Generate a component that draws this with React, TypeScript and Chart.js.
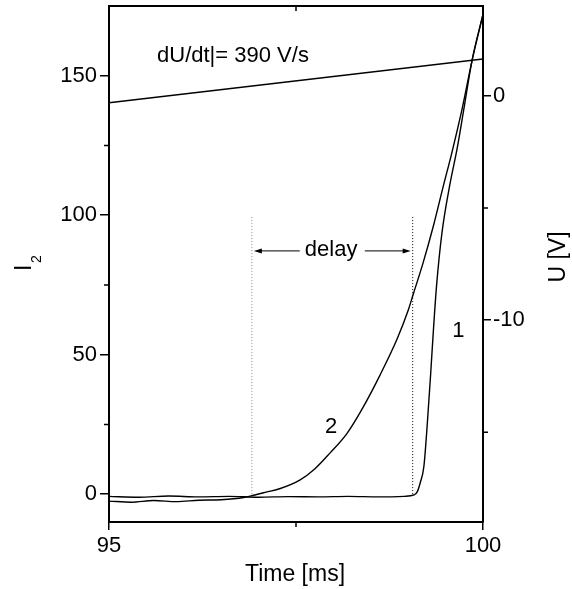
import React, { useEffect, useRef } from "react";
import { Chart, registerables } from "chart.js";

Chart.register(...registerables);

const FONT = '"Liberation Sans", Arial, Helvetica, sans-serif';

// Axis ranges and ticks
const timeRange = [95, 100];
const currentRange = [-10, 175];
const voltRange = [-19, 4];
const timeMajorTicks = [95, 100];
const timeMinorTicks = [97.5];
const currentMajorTicks = [0, 50, 100, 150];
const currentMinorTicks = [25, 75, 125];
const voltMajorTicks = [-10, 0];
const voltMinorTicks = [-15, -5];

// Curve 1 (I2)
const curve1Time = [95.0, 95.4, 95.8, 96.2, 96.6, 97.0, 97.4, 97.8, 98.2, 98.6, 98.95, 99.08, 99.12, 99.16, 99.21, 99.26, 99.3, 99.34, 99.38, 99.45, 99.56, 99.65, 99.75, 99.85, 100.0];
const curve1Current = [-0.8, -1.1, -0.7, -1.0, -0.8, -1.1, -0.9, -1.0, -0.8, -1.0, -0.8, -0.3, 0.8, 4, 10, 27, 43, 60, 75, 93.4, 111.4, 123.3, 139, 155, 172];

// Curve 2 (I2)
const curve2Time = [95.0, 95.3, 95.6, 95.9, 96.2, 96.5, 96.8, 96.95, 97.1, 97.29, 97.55, 97.75, 97.95, 98.18, 98.4, 98.62, 98.85, 99.0, 99.07, 99.2, 99.34, 99.47, 99.58, 99.72, 99.85, 100.0];
const curve2Current = [-2.5, -2.9, -2.3, -2.7, -2.2, -2.0, -1.2, -0.3, 0.7, 2, 5, 9, 14.6, 21.7, 31.3, 42.5, 55.5, 65.9, 71.9, 83, 96.5, 110.5, 122, 138, 155, 172];

// Voltage ramp U (right axis)
const voltTime = [95, 100];
const voltValues = [-0.31, 1.64];

// Delay markers
const delayTimes = [96.91, 99.06];
const delayMarkerRange = [0, 100];
const delayArrowLevel = 87.2;
const delayArrowTails = [97.55, 98.42];

// Text annotations [time, current]
const rampLabel = { text: "dU/dt|= 390 V/s", x: 95.642, y: 154.8 };
const curveLabels = [
  { text: "1", x: 99.67, y: 56.3 },
  { text: "2", x: 97.97, y: 21.9 },
];
const delayLabel = { text: "delay", x: 97.97, y: 85.3 };

const toPoints = (xs: number[], ys: number[]) => xs.map((x, i) => ({ x, y: ys[i] }));

const overlayPlugin = {
  id: "overlay",
  afterDraw(chart: any) {
    const { ctx, chartArea, scales } = chart;
    const xs = scales.x;
    const yl = scales.yI;
    const yr = scales.yU;
    ctx.save();
    ctx.strokeStyle = "#000";
    ctx.fillStyle = "#000";

    // top frame
    ctx.lineWidth = 2;
    ctx.beginPath();
    ctx.moveTo(chartArea.left - 1, chartArea.top);
    ctx.lineTo(chartArea.right + 1, chartArea.top);
    ctx.stroke();

    // minor ticks
    ctx.lineWidth = 1.5;
    ctx.beginPath();
    timeMinorTicks.forEach((v) => {
      const px = xs.getPixelForValue(v);
      ctx.moveTo(px, chartArea.bottom);
      ctx.lineTo(px, chartArea.bottom + 5);
      ctx.moveTo(px, chartArea.top);
      ctx.lineTo(px, chartArea.top + 5);
    });
    currentMinorTicks.forEach((v) => {
      const py = yl.getPixelForValue(v);
      ctx.moveTo(chartArea.left - 5, py);
      ctx.lineTo(chartArea.left, py);
    });
    voltMinorTicks.forEach((v) => {
      const py = yr.getPixelForValue(v);
      ctx.moveTo(chartArea.right, py);
      ctx.lineTo(chartArea.right + 5, py);
    });
    ctx.stroke();

    // delay arrows
    const ay = yl.getPixelForValue(delayArrowLevel);
    const tipL = xs.getPixelForValue(delayTimes[0]) + 2;
    const tipR = xs.getPixelForValue(delayTimes[1]) - 2;
    const tailL = xs.getPixelForValue(delayArrowTails[0]);
    const tailR = xs.getPixelForValue(delayArrowTails[1]);
    ctx.lineWidth = 1;
    ctx.beginPath();
    ctx.moveTo(tipL + 5, ay);
    ctx.lineTo(tailL, ay);
    ctx.moveTo(tailR, ay);
    ctx.lineTo(tipR - 5, ay);
    ctx.stroke();
    ctx.beginPath();
    ctx.moveTo(tipL, ay);
    ctx.lineTo(tipL + 8, ay - 2.5);
    ctx.lineTo(tipL + 8, ay + 2.5);
    ctx.closePath();
    ctx.moveTo(tipR, ay);
    ctx.lineTo(tipR - 8, ay - 2.5);
    ctx.lineTo(tipR - 8, ay + 2.5);
    ctx.closePath();
    ctx.fill();

    // annotation texts
    ctx.font = `22px ${FONT}`;
    ctx.textBaseline = "alphabetic";
    ctx.textAlign = "left";
    ctx.fillText(rampLabel.text, xs.getPixelForValue(rampLabel.x), yl.getPixelForValue(rampLabel.y));
    ctx.textAlign = "center";
    curveLabels.forEach((l) => {
      ctx.fillText(l.text, xs.getPixelForValue(l.x), yl.getPixelForValue(l.y));
    });
    ctx.fillText(delayLabel.text, xs.getPixelForValue(delayLabel.x), yl.getPixelForValue(delayLabel.y));

    // axis titles
    ctx.font = `23px ${FONT}`;
    ctx.textAlign = "center";
    ctx.fillText("Time [ms]", (chartArea.left + chartArea.right) / 2 - 1, 581);

    ctx.save();
    ctx.translate(565, 257);
    ctx.rotate(-Math.PI / 2);
    ctx.textAlign = "center";
    ctx.fillText("U [V]", 0, 0);
    ctx.restore();

    ctx.save();
    ctx.translate(31, 271);
    ctx.rotate(-Math.PI / 2);
    ctx.textAlign = "left";
    ctx.font = `23px ${FONT}`;
    ctx.fillText("I", 0, 0);
    ctx.font = `14px ${FONT}`;
    ctx.fillText("2", 8, 10);
    ctx.restore();

    ctx.restore();
  },
};

export default function App() {
  const canvasRef = useRef<HTMLCanvasElement | null>(null);

  useEffect(() => {
    if (!canvasRef.current) return;
    const lineStyle = {
      borderColor: "#000",
      borderWidth: 1.4,
      pointRadius: 0,
      fill: false,
      tension: 0,
    };
    const chart = new Chart(canvasRef.current, {
      type: "line",
      data: {
        datasets: [
          { ...lineStyle, label: "U", data: toPoints(voltTime, voltValues), yAxisID: "yU" },
          { ...lineStyle, label: "1", data: toPoints(curve1Time, curve1Current), yAxisID: "yI", cubicInterpolationMode: "monotone" },
          { ...lineStyle, label: "2", data: toPoints(curve2Time, curve2Current), yAxisID: "yI", cubicInterpolationMode: "monotone" },
          {
            ...lineStyle,
            label: "delay start",
            data: toPoints([delayTimes[0], delayTimes[0]], delayMarkerRange),
            yAxisID: "yI",
            borderColor: "#888",
            borderWidth: 1,
            borderDash: [1, 2],
          },
          {
            ...lineStyle,
            label: "delay end",
            data: toPoints([delayTimes[1], delayTimes[1]], delayMarkerRange),
            yAxisID: "yI",
            borderColor: "#000",
            borderWidth: 1,
            borderDash: [1, 2],
          },
        ],
      },
      options: {
        responsive: false,
        animation: false,
        events: [],
        layout: { padding: { top: 6, left: 0, right: 0, bottom: 0 } },
        plugins: { legend: { display: false }, tooltip: { enabled: false }, title: { display: false } },
        scales: {
          x: {
            type: "linear",
            position: "bottom",
            min: timeRange[0],
            max: timeRange[1],
            afterBuildTicks: (s: any) => {
              s.ticks = timeMajorTicks.map((v) => ({ value: v }));
            },
            afterFit: (s: any) => {
              s.height = 67;
              s.paddingLeft = 0;
              s.paddingRight = 0;
            },
            grid: { drawOnChartArea: false, drawTicks: true, tickLength: 8, color: "#000", lineWidth: 1.5 },
            border: { display: true, color: "#000", width: 2 },
            ticks: { color: "#000", font: { family: FONT, size: 22 }, padding: 3, maxRotation: 0, autoSkip: false },
          },
          yI: {
            type: "linear",
            position: "left",
            min: currentRange[0],
            max: currentRange[1],
            afterBuildTicks: (s: any) => {
              s.ticks = currentMajorTicks.map((v) => ({ value: v }));
            },
            afterFit: (s: any) => {
              s.width = 109;
              s.paddingTop = 0;
              s.paddingBottom = 0;
            },
            grid: { drawOnChartArea: false, drawTicks: true, tickLength: 9, color: "#000", lineWidth: 1.5 },
            border: { display: true, color: "#000", width: 2 },
            ticks: { color: "#000", font: { family: FONT, size: 22 }, padding: 3, autoSkip: false },
          },
          yU: {
            type: "linear",
            position: "right",
            min: voltRange[0],
            max: voltRange[1],
            afterBuildTicks: (s: any) => {
              s.ticks = voltMajorTicks.map((v) => ({ value: v }));
            },
            afterFit: (s: any) => {
              s.width = 89;
              s.paddingTop = 0;
              s.paddingBottom = 0;
            },
            grid: { drawOnChartArea: false, drawTicks: true, tickLength: 8, color: "#000", lineWidth: 1.5 },
            border: { display: true, color: "#000", width: 2 },
            ticks: { color: "#000", font: { family: FONT, size: 22 }, padding: 2, autoSkip: false },
          },
        },
      },
      plugins: [overlayPlugin],
    } as any);
    return () => chart.destroy();
  }, []);

  return (
    <div style={{ position: "fixed", left: 0, top: 0, width: 572, height: 589, background: "#fff" }}>
      <canvas ref={canvasRef} width={572} height={589} style={{ display: "block", width: 572, height: 589 }} />
    </div>
  );
}
